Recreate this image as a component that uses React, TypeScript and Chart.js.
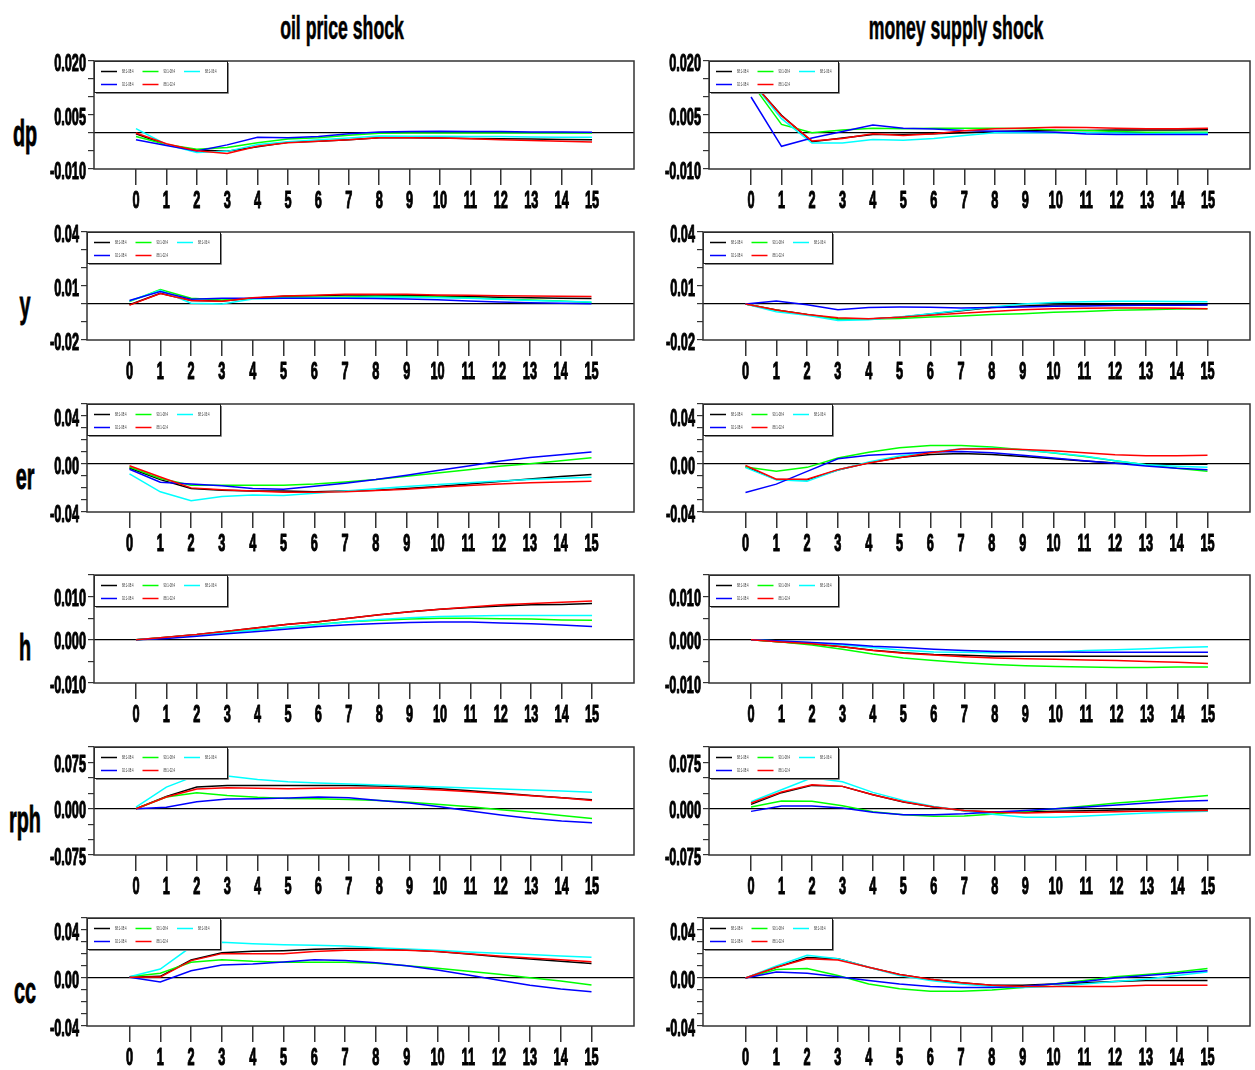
import React, { useEffect, useRef } from "react";
import { Chart, registerables } from "chart.js";

Chart.register(...registerables);

// ---------- data ----------
const horizons = [0, 1, 2, 3, 4, 5, 6, 7, 8, 9, 10, 11, 12, 13, 14, 15];
const seriesLabels = ["88:1-08:4", "90:1-08:4", "88:1-06:4", "92:1-08:4", "88:1-02:4"];
const seriesColors = ["#000000", "#00ff00", "#00ffff", "#0000ff", "#ff0000"];
const shockTitles = ["oil price shock", "money supply shock"];
const variableNames = ["dp", "y", "er", "h", "rph", "cc"];

// order of rows in each array: black, green, cyan, blue, red
const dpOil = [
  [-0.0002, -0.0033, -0.0047, -0.0051, -0.0038, -0.0026, -0.0023, -0.0019, -0.0013, -0.0013, -0.0014, -0.0015, -0.0016, -0.0017, -0.0018, -0.0019],
  [-0.001, -0.0032, -0.0045, -0.004, -0.0027, -0.0017, -0.0013, -0.0006, -0.0001, 0.0, 0.0, 0.0, 0.0, 0.0, 0.0, 0.0],
  [0.0012, -0.0032, -0.0054, -0.0051, -0.0032, -0.0024, -0.0019, -0.0014, -0.0008, -0.0009, -0.0009, -0.001, -0.001, -0.0011, -0.0012, -0.0012],
  [-0.0019, -0.0035, -0.005, -0.0033, -0.0012, -0.0013, -0.001, -0.0002, 0.0003, 0.0004, 0.0005, 0.0004, 0.0004, 0.0003, 0.0003, 0.0002],
  [0.0, -0.003, -0.0049, -0.0057, -0.0037, -0.0027, -0.0023, -0.0019, -0.0013, -0.0013, -0.0014, -0.0016, -0.0019, -0.0021, -0.0023, -0.0025],
];
const dpMoney = [
  [0.0145, 0.0049, -0.0024, -0.0014, -0.0004, -0.0004, -0.0002, 0.0001, 0.0004, 0.0006, 0.0007, 0.0007, 0.0008, 0.0008, 0.0008, 0.0009],
  [0.014, 0.0024, 0.0001, 0.0008, 0.0013, 0.0012, 0.0013, 0.0013, 0.0013, 0.0012, 0.0008, 0.0007, 0.0004, 0.0002, 0.0002, 0.0002],
  [0.0145, 0.004, -0.0028, -0.0028, -0.0018, -0.002, -0.0015, -0.0007, 0.0001, 0.0001, 0.0001, 0.0001, 0.0, -0.0002, -0.0001, -0.0001],
  [0.01, -0.0037, -0.0014, 0.0004, 0.0022, 0.0013, 0.0011, 0.0007, 0.0005, 0.0004, 0.0002, -0.0003, -0.0004, -0.0004, -0.0004, -0.0004],
  [0.0145, 0.0048, -0.0022, -0.0015, -0.0002, -0.0007, -0.0002, 0.0006, 0.0012, 0.0014, 0.0016, 0.0015, 0.0013, 0.0012, 0.0012, 0.0013],
];
const yOil = [
  [-0.0004, 0.006, 0.0019, 0.0017, 0.0032, 0.0043, 0.0046, 0.005, 0.005, 0.0048, 0.0045, 0.0041, 0.0037, 0.0035, 0.0032, 0.003],
  [0.0013, 0.008, 0.0032, 0.0022, 0.0032, 0.0037, 0.0037, 0.0039, 0.0041, 0.0041, 0.0039, 0.0035, 0.0028, 0.0022, 0.0017, 0.0009],
  [0.0017, 0.0076, 0.0004, 0.0, 0.0028, 0.0032, 0.0034, 0.0035, 0.0037, 0.0037, 0.0035, 0.0032, 0.0026, 0.002, 0.0015, 0.0011],
  [0.0019, 0.0069, 0.0026, 0.0032, 0.0032, 0.0032, 0.0032, 0.0032, 0.003, 0.0028, 0.0024, 0.0017, 0.0011, 0.0007, 0.0004, 0.0002],
  [-0.0006, 0.0058, 0.002, 0.0015, 0.0035, 0.0045, 0.0048, 0.0054, 0.0054, 0.0054, 0.005, 0.0048, 0.0046, 0.0045, 0.0043, 0.0041],
];
const yMoney = [
  [0.0, -0.0033, -0.0058, -0.0082, -0.0084, -0.0074, -0.0056, -0.0037, -0.002, -0.0011, -0.0006, -0.0004, -0.0004, -0.0004, -0.0004, -0.0004],
  [0.0, -0.0035, -0.0059, -0.0084, -0.0084, -0.008, -0.0072, -0.0067, -0.0059, -0.0054, -0.0046, -0.0041, -0.0035, -0.0032, -0.0028, -0.0026],
  [0.0, -0.0043, -0.0063, -0.0091, -0.0087, -0.0072, -0.0054, -0.0035, -0.0017, 0.0, 0.0009, 0.0013, 0.0015, 0.0015, 0.0014, 0.0013],
  [0.0, 0.0017, -0.0004, -0.0032, -0.0019, -0.0017, -0.0018, -0.0022, -0.002, -0.0017, -0.0013, -0.0011, -0.0009, -0.0007, -0.0007, -0.0006],
  [0.0, -0.0033, -0.0058, -0.0076, -0.0082, -0.0074, -0.0063, -0.0052, -0.0041, -0.0032, -0.0026, -0.0024, -0.0022, -0.0022, -0.0024, -0.0026],
];
const erOil = [
  [-0.0033, -0.013, -0.0204, -0.0218, -0.0224, -0.0226, -0.0232, -0.0226, -0.0218, -0.0204, -0.0188, -0.0166, -0.0146, -0.0124, -0.0105, -0.0088],
  [-0.0025, -0.0121, -0.0177, -0.0177, -0.0177, -0.0177, -0.0166, -0.0149, -0.013, -0.0102, -0.0075, -0.0047, -0.0019, 0.0003, 0.0028, 0.0052],
  [-0.0083, -0.0232, -0.0306, -0.027, -0.0259, -0.0262, -0.0243, -0.0224, -0.0207, -0.0188, -0.0171, -0.0157, -0.0141, -0.013, -0.0119, -0.011],
  [-0.0044, -0.0152, -0.0166, -0.0182, -0.0204, -0.021, -0.0185, -0.016, -0.013, -0.0094, -0.0055, -0.0017, 0.0022, 0.0055, 0.0077, 0.0099],
  [-0.0014, -0.0108, -0.0199, -0.0215, -0.0226, -0.0235, -0.0235, -0.0232, -0.0221, -0.021, -0.0193, -0.018, -0.0166, -0.0157, -0.0149, -0.0144],
];
const erMoney = [
  [-0.0022, -0.013, -0.0132, -0.005, 0.0011, 0.0055, 0.008, 0.0088, 0.008, 0.0063, 0.0044, 0.0025, 0.0008, 0.0, -0.0003, -0.0003],
  [-0.0025, -0.0061, -0.0028, 0.005, 0.0097, 0.0135, 0.0155, 0.0155, 0.0141, 0.0119, 0.0091, 0.0063, 0.0028, -0.0006, -0.0036, -0.0061],
  [-0.003, -0.0132, -0.0144, -0.005, 0.0017, 0.0066, 0.0099, 0.0127, 0.0132, 0.0116, 0.0094, 0.0066, 0.0028, -0.0006, -0.0019, -0.0028],
  [-0.0237, -0.0168, -0.0061, 0.0044, 0.0072, 0.0086, 0.0099, 0.0105, 0.0094, 0.0072, 0.005, 0.0028, 0.0006, -0.0017, -0.0036, -0.0047],
  [-0.0011, -0.0127, -0.0127, -0.0047, 0.0008, 0.0052, 0.0094, 0.0124, 0.0127, 0.0121, 0.011, 0.0094, 0.0077, 0.0069, 0.0069, 0.0072],
];
const hOil = [
  [0.0, 0.0006, 0.0012, 0.002, 0.0028, 0.0036, 0.0042, 0.005, 0.0058, 0.0065, 0.0071, 0.0075, 0.0078, 0.0081, 0.0082, 0.0084],
  [0.0, 0.0005, 0.0011, 0.0018, 0.0023, 0.0029, 0.0036, 0.0042, 0.0045, 0.0048, 0.005, 0.005, 0.0049, 0.0048, 0.0046, 0.0045],
  [0.0, 0.0005, 0.0011, 0.0017, 0.0023, 0.0029, 0.0035, 0.0042, 0.0047, 0.0051, 0.0054, 0.0055, 0.0056, 0.0056, 0.0056, 0.0056],
  [0.0, 0.0003, 0.0008, 0.0014, 0.0019, 0.0025, 0.0031, 0.0035, 0.0038, 0.004, 0.0041, 0.0041, 0.0039, 0.0037, 0.0034, 0.0031],
  [0.0, 0.0006, 0.0012, 0.002, 0.0028, 0.0036, 0.0042, 0.005, 0.0058, 0.0065, 0.0071, 0.0076, 0.0081, 0.0084, 0.0087, 0.009],
];
const hMoney = [
  [0.0, -0.0005, -0.0009, -0.0016, -0.0024, -0.003, -0.0034, -0.0036, -0.0038, -0.0038, -0.0038, -0.0038, -0.0038, -0.0038, -0.0038, -0.0038],
  [0.0, -0.0005, -0.0012, -0.0022, -0.0033, -0.0042, -0.0048, -0.0053, -0.0057, -0.006, -0.0062, -0.0063, -0.0064, -0.0064, -0.0063, -0.0063],
  [0.0, -0.0003, -0.0007, -0.0012, -0.0018, -0.0024, -0.0028, -0.0029, -0.003, -0.0029, -0.0028, -0.0025, -0.0023, -0.0021, -0.0018, -0.0016],
  [0.0, -0.0003, -0.0006, -0.001, -0.0015, -0.0018, -0.0022, -0.0025, -0.0027, -0.0028, -0.0028, -0.0029, -0.0029, -0.0029, -0.0029, -0.0029],
  [0.0, -0.0005, -0.0009, -0.0016, -0.0025, -0.0031, -0.0035, -0.0039, -0.0042, -0.0044, -0.0045, -0.0047, -0.0048, -0.005, -0.0052, -0.0055],
];
const rphOil = [
  [0.0, 0.02, 0.035, 0.0378, 0.0378, 0.0378, 0.0378, 0.0378, 0.0367, 0.035, 0.0324, 0.0292, 0.0254, 0.0216, 0.0178, 0.0146],
  [0.0, 0.0189, 0.0259, 0.0216, 0.0184, 0.0167, 0.0162, 0.0151, 0.0135, 0.0103, 0.007, 0.0032, -0.0016, -0.0059, -0.0108, -0.0157],
  [0.0027, 0.035, 0.054, 0.053, 0.0475, 0.0437, 0.0416, 0.04, 0.0383, 0.0367, 0.035, 0.0335, 0.0319, 0.0302, 0.0286, 0.0265],
  [0.0, 0.0022, 0.0113, 0.0157, 0.0162, 0.0173, 0.0189, 0.0178, 0.0135, 0.0092, 0.0032, -0.0038, -0.0103, -0.0157, -0.02, -0.0227],
  [0.0, 0.0189, 0.0319, 0.034, 0.033, 0.0324, 0.033, 0.0335, 0.0335, 0.0324, 0.0302, 0.0275, 0.0243, 0.021, 0.0178, 0.0135],
];
const rphMoney = [
  [0.007, 0.026, 0.0378, 0.0362, 0.0227, 0.0108, 0.0027, -0.0032, -0.0054, -0.0054, -0.0043, -0.0032, -0.0022, -0.0011, -0.0005, -0.0005],
  [0.0027, 0.0124, 0.0119, 0.0049, -0.0049, -0.0097, -0.0124, -0.0119, -0.0086, -0.0043, 0.0, 0.0043, 0.0092, 0.013, 0.0173, 0.0216],
  [0.0113, 0.0308, 0.0502, 0.0437, 0.0265, 0.0135, 0.0038, -0.0032, -0.0092, -0.014, -0.014, -0.0119, -0.0092, -0.007, -0.0054, -0.0043],
  [-0.0043, 0.0043, 0.0043, 0.0011, -0.0059, -0.0097, -0.0097, -0.0081, -0.0054, -0.0027, 0.0, 0.0027, 0.0059, 0.0092, 0.0119, 0.0135],
  [0.0092, 0.027, 0.0389, 0.0362, 0.0227, 0.0113, 0.0027, -0.0027, -0.0059, -0.007, -0.0059, -0.0059, -0.0049, -0.0038, -0.0032, -0.0027],
];
const ccOil = [
  [0.0006, 0.0014, 0.015, 0.0211, 0.0222, 0.0228, 0.0239, 0.0245, 0.0245, 0.0236, 0.022, 0.02, 0.0178, 0.0158, 0.0139, 0.012],
  [0.0011, 0.0039, 0.0131, 0.0153, 0.0139, 0.0131, 0.0131, 0.0131, 0.0122, 0.0103, 0.0081, 0.0056, 0.0031, 0.0003, -0.0025, -0.0058],
  [0.0011, 0.0075, 0.026, 0.0297, 0.0286, 0.0278, 0.0272, 0.0267, 0.0253, 0.0242, 0.0231, 0.0217, 0.0206, 0.0195, 0.0183, 0.0172],
  [0.0006, -0.0033, 0.0061, 0.0108, 0.0117, 0.0133, 0.0153, 0.0145, 0.0128, 0.0103, 0.0067, 0.0025, -0.0019, -0.0061, -0.0092, -0.0114],
  [0.0006, 0.0008, 0.0145, 0.0203, 0.0203, 0.0203, 0.022, 0.0231, 0.0233, 0.0231, 0.022, 0.0203, 0.0183, 0.0167, 0.0153, 0.0136],
];
const ccMoney = [
  [0.0, 0.009, 0.017, 0.016, 0.009, 0.003, -0.001, -0.004, -0.006, -0.006, -0.005, -0.004, -0.003, -0.002, -0.002, -0.002],
  [0.0, 0.007, 0.008, 0.002, -0.005, -0.009, -0.011, -0.011, -0.01, -0.008, -0.005, -0.002, 0.001, 0.003, 0.005, 0.008],
  [0.0, 0.01, 0.019, 0.016, 0.009, 0.002, -0.002, -0.005, -0.007, -0.008, -0.007, -0.005, -0.003, -0.001, 0.002, 0.005],
  [0.0, 0.005, 0.004, 0.001, -0.002, -0.005, -0.007, -0.008, -0.008, -0.007, -0.005, -0.003, 0.0, 0.002, 0.004, 0.006],
  [0.0, 0.009, 0.016, 0.015, 0.009, 0.003, -0.001, -0.004, -0.006, -0.007, -0.007, -0.007, -0.007, -0.006, -0.006, -0.006],
];

// y-axis tick labels per variable
const dpTickLabels = [-0.01, 0.005, 0.02];
const yTickLabels = [-0.02, 0.01, 0.04];
const erTickLabels = [-0.04, 0.0, 0.04];
const hTickLabels = [-0.01, 0.0, 0.01];
const rphTickLabels = [-0.075, 0.0, 0.075];
const ccTickLabels = [-0.04, 0.0, 0.04];

// ---------- layout ----------
const FONT = '"Liberation Sans", Arial, Helvetica, sans-serif';
const ROW_TOPS = [61, 232, 404, 575, 747, 918];
const BOX_H = 108;
const CANVAS_H = 160;
const X_TICK_LEN = 16;
const Y_TICK_LEN = 6;

type Axis = { min: number; max: number; step: number; labels: number[]; decimals: number };
const axes: Axis[] = [
  { min: -0.01, max: 0.02, step: 0.005, labels: dpTickLabels, decimals: 3 },
  { min: -0.02, max: 0.04, step: 0.01, labels: yTickLabels, decimals: 2 },
  { min: -0.04, max: 0.05, step: 0.01, labels: erTickLabels, decimals: 2 },
  { min: -0.01, max: 0.015, step: 0.005, labels: hTickLabels, decimals: 3 },
  { min: -0.075, max: 0.1, step: 0.025, labels: rphTickLabels, decimals: 3 },
  { min: -0.04, max: 0.05, step: 0.01, labels: ccTickLabels, decimals: 2 },
];
const panelData = [
  [dpOil, dpMoney],
  [yOil, yMoney],
  [erOil, erMoney],
  [hOil, hMoney],
  [rphOil, rphMoney],
  [ccOil, ccMoney],
];

function drawSquashed(
  ctx: CanvasRenderingContext2D,
  text: string,
  x: number,
  y: number,
  sx: number,
  align: CanvasTextAlign,
  strokeW = 0
) {
  ctx.save();
  ctx.translate(x, y);
  ctx.scale(sx, 1);
  ctx.textAlign = align;
  if (strokeW > 0) {
    ctx.lineWidth = strokeW;
    ctx.strokeStyle = ctx.fillStyle as string;
    ctx.lineJoin = "round";
    ctx.strokeText(text, 0, 0);
  }
  ctx.fillText(text, 0, 0);
  ctx.restore();
}

const decoPlugin = {
  id: "deco",
  afterDatasetsDraw(chart: any, _args: any, opts: any) {
    const { ctx, chartArea: a } = chart;
    const lw = opts.legendWidth;
    const lh = 31;
    ctx.save();
    ctx.fillStyle = "#ffffff";
    ctx.fillRect(a.left, a.top, lw, lh);
    ctx.strokeStyle = "#888";
    ctx.lineWidth = 1;
    ctx.beginPath();
    ctx.moveTo(a.left + lw + 1.5, a.top + 2);
    ctx.lineTo(a.left + lw + 1.5, a.top + lh + 1.5);
    ctx.lineTo(a.left + 2, a.top + lh + 1.5);
    ctx.stroke();
    ctx.strokeStyle = "#111";
    ctx.strokeRect(a.left + 0.5, a.top + 0.5, lw, lh);
    seriesLabels.forEach((lab, i) => {
      const col = i % 3;
      const row = Math.floor(i / 3);
      const sx = a.left + 7 + col * 41.5;
      const sy = a.top + (row ? 23.5 : 10.5);
      ctx.strokeStyle = seriesColors[i];
      ctx.lineWidth = 1.5;
      ctx.beginPath();
      ctx.moveTo(sx, sy);
      ctx.lineTo(sx + 16, sy);
      ctx.stroke();
      ctx.fillStyle = "#333";
      ctx.font = `6px ${FONT}`;
      ctx.textBaseline = "middle";
      drawSquashed(ctx, lab, sx + 21, sy, 0.45, "left");
    });
    ctx.restore();
  },
  afterDraw(chart: any, _args: any, opts: any) {
    const { ctx, chartArea: a, scales } = chart;
    ctx.save();
    ctx.strokeStyle = "#333";
    ctx.lineWidth = 1.5;
    ctx.strokeRect(a.left, a.top, a.right - a.left, a.bottom - a.top);
    ctx.fillStyle = "#000";
    ctx.font = `bold 24px ${FONT}`;
    ctx.textBaseline = "alphabetic";
    scales.x.ticks.forEach((t: any) => {
      drawSquashed(ctx, String(t.value), scales.x.getPixelForValue(t.value), a.bottom + 39, 0.53, "center", 1.1);
    });
    (opts.labelValues as number[]).forEach((v) => {
      drawSquashed(ctx, v.toFixed(opts.decimals), a.left - 8, scales.y.getPixelForValue(v) + 9.5, 0.53, "right", 1.1);
    });
    ctx.restore();
  },
};

type PanelProps = { row: number; col: number };

function PanelChart({ row, col }: PanelProps) {
  const ref = useRef<HTMLCanvasElement>(null);
  const axis = axes[row];
  const wide = axis.decimals === 3;
  const canvasLeft = col === 0 ? 0 : 640;
  const canvasW = col === 0 ? 640 : 615;
  const boxLeft = col === 0 ? (wide ? 94 : 87) : wide ? 709 : 703;
  const boxRight = col === 0 ? 634 : 1250;
  const canvasTop = ROW_TOPS[row] - 8;

  useEffect(() => {
    const series = panelData[row][col];
    const datasets = series.map((vals, i) => ({
      label: seriesLabels[i],
      data: vals.map((v, k) => ({ x: horizons[k], y: v })),
      borderColor: seriesColors[i],
      backgroundColor: seriesColors[i],
      borderWidth: 1.5,
      pointRadius: 0,
      tension: 0,
      fill: false,
      order: series.length - 1 - i,
    }));
    const chart = new Chart(ref.current as HTMLCanvasElement, {
      type: "line",
      data: { datasets },
      options: {
        animation: false,
        responsive: false,
        events: [],
        layout: {
          padding: {
            left: boxLeft - canvasLeft - Y_TICK_LEN,
            right: canvasLeft + canvasW - boxRight,
            top: 8,
            bottom: CANVAS_H - 8 - BOX_H - X_TICK_LEN,
          },
        },
        scales: {
          x: {
            type: "linear",
            min: -1.38,
            max: 16.38,
            afterBuildTicks: (scale: any) => {
              scale.ticks = horizons.map((h) => ({ value: h }));
            },
            ticks: { display: false },
            grid: {
              drawOnChartArea: false,
              drawTicks: true,
              tickLength: X_TICK_LEN,
              color: "#333",
              lineWidth: 1.5,
            },
            border: { display: false },
          },
          y: {
            type: "linear",
            min: axis.min,
            max: axis.max,
            ticks: { display: false, stepSize: axis.step },
            grid: {
              drawOnChartArea: true,
              drawTicks: true,
              tickLength: Y_TICK_LEN,
              color: (c: any) => (c.tick && Math.abs(c.tick.value) < 1e-9 ? "#000" : "rgba(0,0,0,0)"),
              tickColor: "#333",
              lineWidth: 1.2,
            },
            border: { display: false },
          },
        },
        plugins: {
          legend: { display: false },
          tooltip: { enabled: false },
          deco: {
            legendWidth: col === 0 ? 133 : 129,
            labelValues: axis.labels,
            decimals: axis.decimals,
          },
        } as any,
      },
      plugins: [decoPlugin as any],
    } as any);
    return () => chart.destroy();
  }, []);

  return (
    <canvas
      ref={ref}
      width={canvasW}
      height={CANVAS_H}
      style={{ position: "absolute", left: canvasLeft, top: canvasTop, width: canvasW, height: CANVAS_H }}
    />
  );
}

export default function App() {
  const titleCenters = [342, 956];
  return (
    <div
      style={{
        position: "absolute",
        left: 0,
        top: 0,
        width: 1255,
        height: 1070,
        background: "#ffffff",
        overflow: "hidden",
      }}
    >
      {shockTitles.map((t, i) => (
        <div
          key={t}
          style={{
            position: "absolute",
            left: titleCenters[i] - 250,
            top: 11,
            width: 500,
            textAlign: "center",
            font: `bold 33px ${FONT}`,
            lineHeight: "33px",
            transform: "scaleX(0.535)",
            whiteSpace: "nowrap",
            color: "#000",
            WebkitTextStroke: "0.6px #000",
          }}
        >
          {t}
        </div>
      ))}
      {variableNames.map((v, r) => (
        <div
          key={v}
          style={{
            position: "absolute",
            left: 25 - 50,
            top: ROW_TOPS[r] + 54.5,
            width: 100,
            textAlign: "center",
            font: `bold 36px ${FONT}`,
            lineHeight: "36px",
            transform: "scaleX(0.55)",
            whiteSpace: "nowrap",
            color: "#000",
            WebkitTextStroke: "0.8px #000",
          }}
        >
          {v}
        </div>
      ))}
      {variableNames.map((v, r) =>
        [0, 1].map((c) => <PanelChart key={v + c} row={r} col={c} />)
      )}
    </div>
  );
}
